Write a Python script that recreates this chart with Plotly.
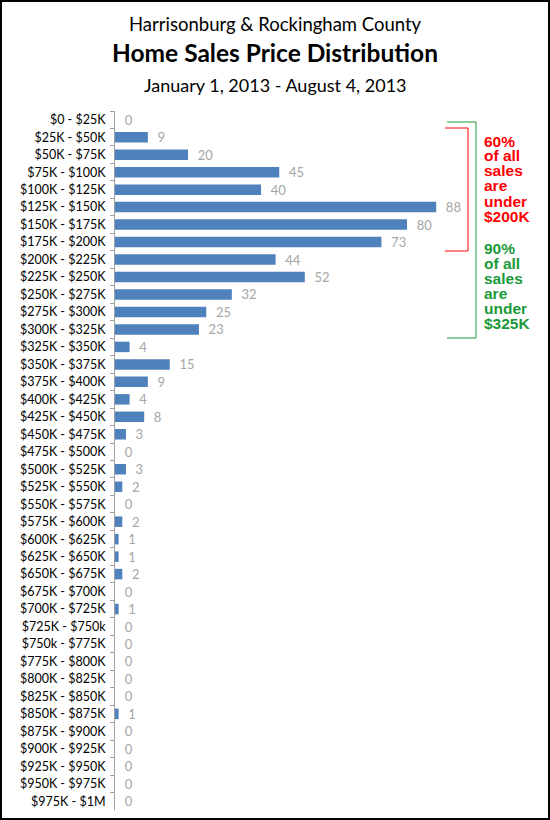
import plotly.graph_objects as go

categories = [
    "$0 - $25K", "$25K - $50K", "$50K - $75K", "$75K - $100K", "$100K - $125K",
    "$125K - $150K", "$150K - $175K", "$175K - $200K", "$200K - $225K", "$225K - $250K",
    "$250K - $275K", "$275K - $300K", "$300K - $325K", "$325K - $350K", "$350K - $375K",
    "$375K - $400K", "$400K - $425K", "$425K - $450K", "$450K - $475K", "$475K - $500K",
    "$500K - $525K", "$525K - $550K", "$550K - $575K", "$575K - $600K", "$600K - $625K",
    "$625K - $650K", "$650K - $675K", "$675K - $700K", "$700K - $725K", "$725K - $750k",
    "$750k - $775K", "$775K - $800K", "$800K - $825K", "$825K - $850K", "$850K - $875K",
    "$875K - $900K", "$900K - $925K", "$925K - $950K", "$950K - $975K", "$975K - $1M",
]
sales = [
    0, 9, 20, 45, 40, 88, 80, 73, 44, 52,
    32, 25, 23, 4, 15, 9, 4, 8, 3, 0,
    3, 2, 0, 2, 1, 1, 2, 0, 1, 0,
    0, 0, 0, 0, 1, 0, 0, 0, 0, 0,
]
red_note = ["60%", "of all", "sales", "are", "under", "$200K"]
green_note = ["90%", "of all", "sales", "are", "under", "$325K"]

W, H = 550, 820
L, R, T, B = 115, 70, 111, 10
PW, PH = W - L - R, H - T - B

def px(x):
    return (x - L) / PW

def py(y):
    return (H - B - y) / PH

fig = go.Figure()
fig.add_trace(go.Bar(
    y=categories, x=sales, orientation="h",
    marker=dict(color="#4F81BD", line=dict(width=0)),
    text=["  " + str(v) for v in sales],
    textposition="outside",
    constraintext="none",
    textfont=dict(family="Lato", size=13, color="#A6A6A6"),
    cliponaxis=False,
    hoverinfo="skip",
))

fig.update_layout(
    width=W, height=H,
    margin=dict(l=L, r=R, t=T, b=B),
    paper_bgcolor="white", plot_bgcolor="white",
    showlegend=False,
    bargap=0.4,
    xaxis=dict(range=[0, 100], visible=False, fixedrange=True),
    yaxis=dict(
        autorange="reversed", type="category",
        showline=True, linecolor="#A0A0A0", linewidth=1,
        ticks="outside", ticklen=4, tickcolor="#A0A0A0", tickson="boundaries",
        tickfont=dict(family="Lato", size=12.5, color="black"),
        ticklabelstandoff=6,
        showgrid=False, fixedrange=True,
    ),
)

# Titles
titles = [
    ("Harrisonburg &amp; Rockingham County", 24, 18.5),
    ("<b>Home Sales Price Distribution</b>", 53, 24.5),
    ("January 1, 2013 - August 4, 2013", 85, 18),
]
for txt, y, size in titles:
    fig.add_annotation(text=txt, xref="paper", yref="paper", x=px(275), y=py(y),
                       xanchor="center", yanchor="middle", showarrow=False,
                       font=dict(family="Lato", size=size, color="black"))

# Brackets
red, green = "#FF0000", "#1A9A3A"
def bracket(x0, x1, y0, y1, color):
    pts = [(x0, y0), (x1, y0), (x1, y1), (x0, y1)]
    path = "M " + " L ".join(f"{px(a)},{py(b)}" for a, b in pts)
    fig.add_shape(type="path", path=path, xref="paper", yref="paper",
                  line=dict(color=color, width=1))

bracket(447, 476, 122, 338, green)
bracket(445, 468, 128, 251, red)

def note(lines, y0, color):
    for i, ln in enumerate(lines):
        fig.add_annotation(text="<b>" + ln + "</b>", xref="paper", yref="paper",
                           x=px(482), y=py(y0 + 15 * i), height=15,
                           xanchor="left", yanchor="middle", align="left",
                           valign="middle", showarrow=False,
                           font=dict(family="Liberation Sans", size=15.5, color=color))

note(red_note, 141, red)
note(green_note, 248, green)

# Outer border
fig.add_shape(type="rect", xref="paper", yref="paper",
              x0=px(1), x1=px(549), y0=py(819), y1=py(1),
              line=dict(color="black", width=2), fillcolor="rgba(0,0,0,0)")

fig.write_html("out.html",
               config={"displayModeBar": False},
               post_script="document.body.style.margin='0';document.body.style.overflow='hidden';")
